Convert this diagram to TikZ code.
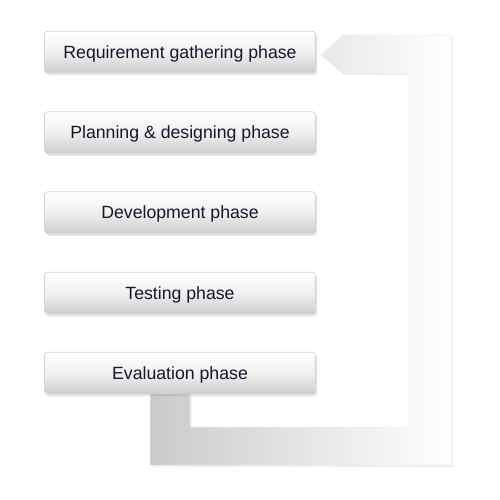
\documentclass[tikz,border=0pt]{standalone}
\usepackage{fontspec}
\setmainfont{Liberation Sans}
\usetikzlibrary{shadows}
\definecolor{txt}{HTML}{16162A}
\definecolor{boxtop}{HTML}{FFFFFF}
\definecolor{boxmid}{HTML}{F0F0F0}
\definecolor{boxbot}{HTML}{CDCDCD}
\definecolor{boxline}{HTML}{D2D2D2}
\definecolor{arrL}{HTML}{CACACA}
\tikzset{
  phase/.style={draw=boxline, line width=0.6pt, rounded corners=3pt,
    top color=boxtop, bottom color=boxbot, middle color=boxmid,
    minimum width=271pt, minimum height=41.5pt,
    inner sep=0pt, text height=12.7pt, text depth=0pt,
    text=txt, font=\fontsize{17.7}{20}\selectfont,
    drop shadow={opacity=0.2, shadow xshift=1.5pt, shadow yshift=-2.5pt}},
  loop/.style={left color=arrL, right color=white, draw=white!93!black, line width=0.5pt,
    drop shadow={opacity=0.12, shadow xshift=1.5pt, shadow yshift=-2pt}}
}
\begin{document}
\begin{tikzpicture}[x=1pt,y=-1pt]
\useasboundingbox (0,0) rectangle (500,500);
\fill[white] (0,0) rectangle (500,500);
% feedback arrow
\path[loop] (321,55) -- (343,35) -- (451,35) -- (451,465) -- (150,465) -- (150,380)
  -- (190,380) -- (190,427) -- (409,427) -- (409,73) -- (343,73) -- cycle;
% phases
\node[phase] (p1) at (180,52) {Requirement gathering phase};
\node[phase] (p2) at (180,132.5) {Planning \& designing phase};
\node[phase] (p3) at (180,212.5) {Development phase};
\node[phase] (p4) at (180,293) {Testing phase};
\node[phase] (p5) at (180,373) {Evaluation phase};
\end{tikzpicture}
\end{document}
